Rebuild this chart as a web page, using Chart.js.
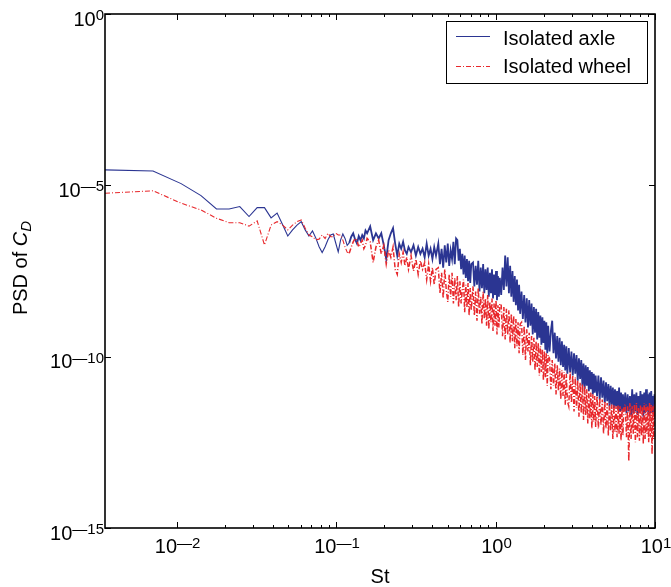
<!DOCTYPE html>
<html>
<head>
<meta charset="utf-8">
<title>PSD of drag coefficient</title>
<script src="https://cdn.jsdelivr.net/npm/chart.js@4.4.0/dist/chart.umd.js"></script>
<style>
    html, body { margin: 0; padding: 0; background: #ffffff; }
    #wrap { width: 671px; height: 587px; }
</style>
</head>
<body>
<div id="wrap"><canvas id="psd-chart" width="671" height="587"></canvas></div>
<script>
// Frequency resolution: St = bin * dSt, last bin sits at St = 10
const dSt = 10 / 2810;

// Frequency bins (every bin at low St, thinned out towards St = 10)
const bins = [
    1, 2, 3, 4, 5, 6, 7, 8, 9, 10, 11, 12, 13, 14, 15, 16, 17, 18, 19, 20, 21, 22,
    23, 24, 25, 26, 27, 28, 29, 30, 31, 32, 33, 34, 35, 36, 37, 38, 39, 40, 41, 42, 43, 44,
    46, 48, 50, 52, 54, 56, 58, 60, 62, 64, 66, 68, 70, 72, 74, 76, 78, 80,
    83, 86, 89, 92, 95, 98, 101, 104, 107, 110, 113, 116, 119,
    123, 126, 129, 132, 135, 138, 141, 144, 147, 150, 153, 156, 159, 162, 165, 168, 171, 174, 177, 180, 183, 186, 189, 192, 195, 198,
    203, 207, 211, 215, 219, 223, 227, 231, 235, 239, 243, 247, 251, 255, 259, 263, 267, 271, 275, 279, 283, 287, 291, 295, 299,
    305, 311, 317, 323, 329, 335, 341, 347, 353, 359, 365, 371, 377, 383, 389, 395, 401,
    409, 417, 425, 433, 441, 449, 457, 465, 473, 481, 489, 497, 505, 513, 521, 529, 537, 545, 553, 561, 569, 577, 585, 593, 601,
    613, 625, 637, 649, 661, 673, 685, 697, 709, 721, 733, 745, 757, 769, 781, 793,
    809, 825, 841, 857, 873, 889, 905, 921, 937, 953, 969, 985, 1001, 1017, 1033, 1049, 1065, 1081, 1097, 1113, 1129, 1145, 1161, 1177, 1193,
    1217, 1241, 1265, 1289, 1313, 1337, 1361, 1385, 1409, 1433, 1457, 1481, 1505, 1529, 1553, 1577, 1601, 1625, 1649, 1673, 1697, 1721, 1745, 1769, 1793,
    1829, 1861, 1893, 1925, 1957, 1989, 2021, 2053, 2085, 2117, 2149, 2181, 2213, 2245, 2277, 2309, 2341, 2373, 2405, 2437,
    2469, 2501, 2533, 2565, 2597, 2629, 2661, 2693, 2725, 2757, 2789, 2810
];

// log10(PSD of C_D), isolated axle
const axleLog = [
    -4.55, -4.58, -4.95, -5.30, -5.69, -5.69, -5.62, -5.91, -5.65, -5.65, -5.95, -5.81, -6.15, -6.48, -6.30,
    -6.16, -6.06, -6.30, -6.48, -6.33, -6.54, -6.79, -6.96, -6.79, -6.59, -6.45, -6.42, -6.69, -6.94,
    -6.60, -6.42, -6.55, -6.75, -6.68, -6.50, -6.40, -6.58, -6.70, -6.48, -6.60, -6.45, -6.55, -6.32, -6.40,
    -6.20, -6.60, -6.40, -6.55, -6.40, -6.75, -7.15, -6.60, -6.40, -6.25, -6.70, -7.05, -6.70, -6.85, -6.65, -6.90, -7.00, -6.80,
    -6.95, -6.75, -7.05, -6.80, -7.00, -6.85, -7.10, -6.70, -7.05, -6.85, -7.15, -6.80, -7.05,
    -6.70, -7.30, -6.85, -7.40, -6.75, -7.25, -6.70, -7.35, -6.90, -7.15, -6.65, -7.30, -6.55, -6.60, -7.20, -6.85,
    -7.45, -7.00, -7.60, -7.05, -7.70, -7.15, -7.80, -7.20, -7.85, -7.30,
    -7.25, -7.95, -7.35, -7.90, -7.20, -8.10, -7.40, -8.00, -7.30, -8.15, -7.45, -8.05, -7.40, -8.25, -7.55, -8.15,
    -7.45, -8.30, -7.60, -8.20, -7.50, -8.35, -7.65, -8.25, -7.70,
    -8.20, -7.40, -8.05, -7.05, -7.95, -7.10, -8.15, -7.35, -8.25, -7.50, -8.40, -7.65, -8.50, -7.75, -8.65, -7.90, -8.75,
    -8.10, -8.90, -8.20, -9.00, -8.30, -9.15, -8.35, -9.10, -8.45, -9.35, -8.55, -9.30, -8.60, -9.50, -8.70, -9.45,
    -8.80, -9.65, -8.85, -9.60, -8.95, -9.80, -9.00, -9.90, -9.10,
    -9.85, -9.25, -8.95, -9.90, -9.30, -10.05, -9.40, -10.15, -9.45, -10.25, -9.55, -10.30, -9.65, -10.40, -9.70, -10.50,
    -9.75, -10.45, -9.85, -10.55, -9.90, -10.50, -9.95, -10.70, -10.05, -10.65, -10.10, -10.85, -10.20, -10.95, -10.25, -10.85,
    -10.30, -11.00, -10.40, -10.95, -10.45, -11.10, -10.50, -11.05, -10.55,
    -11.15, -10.55, -11.25, -10.60, -11.20, -10.70, -11.35, -10.75, -11.30, -10.80, -11.45, -10.85, -11.40, -10.90, -11.50, -10.95,
    -11.45, -11.00, -11.55, -10.90, -11.60, -11.05, -11.55, -11.10, -11.60,
    -11.05, -11.65, -11.10, -11.60, -11.15, -11.70, -10.95, -11.65, -11.10, -11.60, -11.05, -11.70, -11.15, -11.65, -11.00, -11.60,
    -11.10, -11.75, -11.05, -11.65, -10.95, -11.60, -11.10, -11.70, -11.05, -11.65, -11.00, -11.60, -11.15, -11.70, -11.10, -11.45
];

// log10(PSD of C_D), isolated wheel
const wheelLog = [
    -5.23, -5.16, -5.52, -5.72, -5.96, -6.09, -6.09, -6.19, -6.04, -6.74, -6.16, -6.06, -6.16, -6.30, -6.16,
    -6.06, -6.01, -6.25, -6.45, -6.50, -6.59, -6.57, -6.45, -6.55, -6.40, -6.50, -6.50, -6.40, -6.45,
    -6.45, -6.60, -6.80, -6.95, -6.98, -6.80, -6.65, -6.55, -6.60, -6.80, -6.70, -6.60, -6.85, -6.75, -6.55,
    -6.65, -7.25, -6.80, -6.60, -7.00, -6.75, -7.30, -6.90, -7.10, -6.80, -7.45, -7.60, -7.00, -7.25, -6.95, -7.35, -7.10, -7.45,
    -7.05, -7.50, -7.15, -7.60, -7.20, -7.45, -7.25, -7.75, -7.30, -7.80, -7.40, -7.90, -7.45,
    -7.40, -8.15, -7.55, -8.30, -7.45, -8.05, -8.40, -7.60, -8.25, -7.55, -8.45, -7.70, -8.35, -7.65, -8.55, -7.80,
    -8.45, -8.05, -7.75, -8.70, -7.90, -8.55, -7.85, -8.80, -8.00, -8.65,
    -7.95, -8.80, -8.10, -8.95, -8.00, -8.75, -8.25, -9.05, -8.10, -8.90, -8.30, -9.10, -8.20, -9.20, -8.40, -9.00,
    -8.30, -9.25, -8.45, -9.10, -8.35, -9.35, -8.50, -9.15, -8.45,
    -8.50, -9.40, -8.55, -9.50, -8.60, -9.35, -8.65, -9.60, -8.75, -9.55, -8.80, -9.75, -8.90, -9.70, -9.00, -9.90, -9.05,
    -9.00, -9.95, -9.10, -10.10, -9.20, -9.85, -9.30, -10.25, -9.40, -10.15, -9.45, -10.40, -9.55, -10.30, -9.60, -10.55,
    -9.70, -10.45, -9.80, -10.70, -9.85, -10.60, -9.90, -10.85, -9.95,
    -10.05, -10.95, -10.10, -10.85, -10.20, -11.10, -10.25, -11.00, -10.35, -11.25, -10.40, -11.15, -10.45, -11.40, -10.50, -11.30,
    -11.45, -10.45, -11.35, -10.55, -11.60, -10.60, -11.50, -10.70, -11.75, -10.75, -11.65, -10.80, -11.85, -10.85, -11.70, -10.95,
    -11.95, -11.00, -11.80, -11.05, -12.10, -11.10, -11.90, -11.15, -12.05,
    -11.15, -12.10, -11.20, -12.00, -11.25, -12.25, -11.30, -12.10, -11.35, -12.30, -11.35, -12.15, -11.40, -12.40, -11.40, -12.20,
    -11.45, -12.35, -11.40, -12.25, -11.45, -12.45, -11.50, -12.30, -11.45,
    -11.40, -12.35, -11.45, -13.05, -11.35, -12.40, -11.45, -12.25, -11.40, -12.50, -11.35, -12.35, -11.50, -12.45, -11.40, -12.30,
    -11.45, -12.55, -11.35, -12.40, -11.40, -12.25, -11.45, -12.50, -11.35, -12.35, -11.40, -12.85, -11.45, -12.40, -11.40, -11.95
];

// Axis decorations
const xDecades = [-2, -1, 0, 1];
const yDecades = [0, -5, -10, -15];
const seriesNames = ['Isolated axle', 'Isolated wheel'];

const AXLE_COLOR = '#2b3592';
const WHEEL_COLOR = '#e8282c';
const FONT_FAMILY = '"Liberation Sans", Arial, Helvetica, sans-serif';
const BASE_FONT = '20px ' + FONT_FAMILY;
const SUP_FONT = '15px ' + FONT_FAMILY;

function toPoints(logs) {
    return bins.map((k, i) => ({ x: k * dSt, y: Math.pow(10, logs[i]) }));
}

// thin strokes where the spectrum is sparse, heavier where it turns into a band
function bandWidth(thin, thick) {
    return seg => (seg.p0.parsed.x < 0.12 ? thin : thick);
}

// "10" with a raised exponent, e.g. 10—5
function drawPower(ctx, exp, x, baseY, align) {
    const base = '10';
    const sup = exp < 0 ? '\u2014' + (-exp) : String(exp);
    ctx.font = BASE_FONT;
    const wb = ctx.measureText(base).width;
    ctx.font = SUP_FONT;
    const ws = ctx.measureText(sup).width;
    const left = align === 'right' ? x - wb - ws : x - (wb + ws) / 2;
    ctx.textAlign = 'left';
    ctx.textBaseline = 'alphabetic';
    ctx.font = BASE_FONT;
    ctx.fillText(base, left, baseY);
    ctx.font = SUP_FONT;
    ctx.fillText(sup, left + wb, baseY - 5.5);
}

// Box, inward ticks, tick labels, axis titles and legend
const framePlugin = {
    id: 'frame',
    afterDraw(chart) {
        const ctx = chart.ctx;
        const area = chart.chartArea;
        const xs = chart.scales.x;
        const ys = chart.scales.y;

        ctx.save();
        ctx.strokeStyle = '#000';
        ctx.fillStyle = '#000';

        // x ticks on bottom and top edges
        ctx.lineWidth = 1;
        ctx.beginPath();
        xDecades.forEach(d => {
            const px = Math.round(xs.getPixelForValue(Math.pow(10, d))) + 0.5;
            ctx.moveTo(px, area.bottom); ctx.lineTo(px, area.bottom - 6);
            ctx.moveTo(px, area.top); ctx.lineTo(px, area.top + 6);
            if (d < 1) {
                for (let m = 2; m <= 9; m++) {
                    const mx = Math.round(xs.getPixelForValue(m * Math.pow(10, d))) + 0.5;
                    ctx.moveTo(mx, area.bottom); ctx.lineTo(mx, area.bottom - 3);
                    ctx.moveTo(mx, area.top); ctx.lineTo(mx, area.top + 3);
                }
            }
        });
        // y ticks on left and right edges
        yDecades.forEach(d => {
            const py = Math.round(ys.getPixelForValue(Math.pow(10, d))) + 0.5;
            ctx.moveTo(area.left, py); ctx.lineTo(area.left + 6, py);
            ctx.moveTo(area.right, py); ctx.lineTo(area.right - 6, py);
        });
        ctx.stroke();

        // box
        ctx.lineWidth = 1.6;
        ctx.strokeRect(area.left, area.top, area.right - area.left, area.bottom - area.top);

        // tick labels
        xDecades.forEach(d => {
            drawPower(ctx, d, xs.getPixelForValue(Math.pow(10, d)) + 1, area.bottom + 25, 'center');
        });
        yDecades.forEach(d => {
            drawPower(ctx, d, area.left - 1, ys.getPixelForValue(Math.pow(10, d)) + 11.5, 'right');
        });

        // x title
        ctx.font = BASE_FONT;
        ctx.textAlign = 'center';
        ctx.fillText('St', (area.left + area.right) / 2, area.bottom + 55);

        // y title: PSD of C_D
        ctx.save();
        ctx.translate(27, 268);
        ctx.rotate(-Math.PI / 2);
        const italic = 'italic ' + BASE_FONT;
        const italicSub = 'italic ' + SUP_FONT;
        ctx.font = BASE_FONT;
        const w1 = ctx.measureText('PSD of ').width;
        ctx.font = italic;
        const w2 = ctx.measureText('C').width;
        ctx.font = italicSub;
        const w3 = ctx.measureText('D').width;
        let tx = -(w1 + w2 + w3) / 2;
        ctx.textAlign = 'left';
        ctx.font = BASE_FONT;
        ctx.fillText('PSD of ', tx, 0);
        tx += w1;
        ctx.font = italic;
        ctx.fillText('C', tx, 0);
        tx += w2;
        ctx.font = italicSub;
        ctx.fillText('D', tx, 4);
        ctx.restore();

        // legend
        const lx = 446.5, ly = 21.5, lw = 201, lh = 62;
        ctx.fillStyle = '#fff';
        ctx.fillRect(lx, ly, lw, lh);
        ctx.lineWidth = 1;
        ctx.strokeStyle = '#000';
        ctx.strokeRect(lx, ly, lw, lh);

        ctx.lineWidth = 1;
        ctx.strokeStyle = AXLE_COLOR;
        ctx.beginPath();
        ctx.moveTo(456, 36.5); ctx.lineTo(490, 36.5);
        ctx.stroke();

        ctx.strokeStyle = WHEEL_COLOR;
        ctx.setLineDash([5, 2, 1, 2]);
        ctx.beginPath();
        ctx.moveTo(456, 66.5); ctx.lineTo(490, 66.5);
        ctx.stroke();
        ctx.setLineDash([]);

        ctx.fillStyle = '#000';
        ctx.font = BASE_FONT;
        ctx.textAlign = 'left';
        ctx.fillText(seriesNames[0], 503, 45);
        ctx.fillText(seriesNames[1], 503, 73);

        ctx.restore();
    }
};

const ctx = document.getElementById('psd-chart');
new Chart(ctx.getContext('2d'), {
    type: 'line',
    data: {
        datasets: [
            {
                label: seriesNames[1],
                data: toPoints(wheelLog),
                borderColor: WHEEL_COLOR,
                borderWidth: 1.5,
                borderDash: [5, 2, 1, 2],
                segment: { borderWidth: bandWidth(1.1, 1.5) },
                pointRadius: 0,
                fill: false,
                tension: 0,
                order: 0
            },
            {
                label: seriesNames[0],
                data: toPoints(axleLog),
                borderColor: AXLE_COLOR,
                borderWidth: 1.8,
                segment: { borderWidth: bandWidth(1.1, 1.8) },
                pointRadius: 0,
                fill: false,
                tension: 0,
                order: 1
            }
        ]
    },
    options: {
        responsive: false,
        animation: false,
        layout: {
            padding: { left: 105, top: 14, right: 16, bottom: 59 }
        },
        plugins: {
            legend: { display: false },
            tooltip: { enabled: false }
        },
        scales: {
            x: { type: 'logarithmic', min: dSt, max: 10, display: false },
            y: { type: 'logarithmic', min: 1e-15, max: 1, display: false }
        }
    },
    plugins: [framePlugin]
});
</script>
</body>
</html>
